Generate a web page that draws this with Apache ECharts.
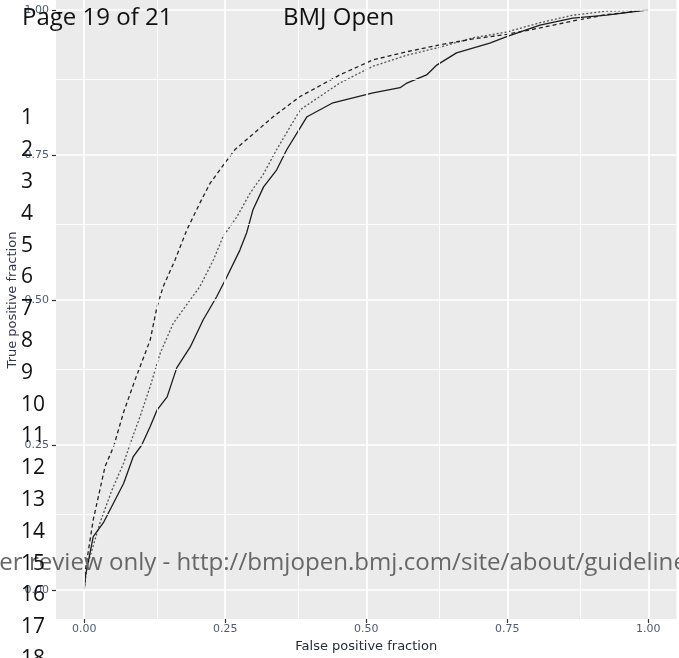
<!DOCTYPE html>
<html>
<head>
<meta charset="utf-8">
<script src="https://cdn.jsdelivr.net/npm/echarts@6/dist/echarts.min.js"></script>
<style>
html,body{margin:0;padding:0;background:#fff;}
#chart{width:679px;height:658px;}
</style>
</head>
<body>
<div id="chart"></div>
<script>
// ---- data ----
var tickValues = [0, 0.25, 0.5, 0.75, 1];
var tickLabels = ['0.00', '0.25', '0.50', '0.75', '1.00'];
var minorValues = [0.125, 0.375, 0.625, 0.875];

var solidFPR = [0, 0.002, 0.016, 0.034, 0.052, 0.070, 0.087, 0.102, 0.117, 0.129, 0.147, 0.164, 0.188, 0.211, 0.235, 0.253, 0.276, 0.288, 0.299, 0.318, 0.341, 0.359, 0.395, 0.441, 0.512, 0.560, 0.572, 0.607, 0.625, 0.660, 0.719, 0.749, 0.808, 0.866, 0.926, 1];
var solidTPR = [0, 0.023, 0.092, 0.116, 0.150, 0.184, 0.230, 0.250, 0.282, 0.310, 0.333, 0.383, 0.419, 0.466, 0.506, 0.540, 0.586, 0.616, 0.655, 0.695, 0.724, 0.759, 0.816, 0.840, 0.857, 0.866, 0.874, 0.888, 0.905, 0.926, 0.943, 0.954, 0.974, 0.986, 0.991, 1];

var dashedFPR = [0, 0.002, 0.016, 0.037, 0.052, 0.070, 0.090, 0.117, 0.129, 0.140, 0.161, 0.182, 0.205, 0.223, 0.247, 0.267, 0.335, 0.383, 0.453, 0.512, 0.572, 0.631, 0.689, 0.749, 0.808, 0.866, 0.926, 1];
var dashedTPR = [0, 0.034, 0.121, 0.213, 0.247, 0.307, 0.362, 0.431, 0.488, 0.523, 0.569, 0.621, 0.667, 0.701, 0.733, 0.759, 0.816, 0.851, 0.888, 0.914, 0.928, 0.940, 0.950, 0.958, 0.969, 0.981, 0.992, 1];

var dottedFPR = [0, 0.005, 0.028, 0.049, 0.070, 0.084, 0.099, 0.117, 0.135, 0.158, 0.175, 0.205, 0.229, 0.246, 0.271, 0.294, 0.317, 0.341, 0.383, 0.453, 0.512, 0.572, 0.631, 0.689, 0.749, 0.808, 0.866, 0.926, 1];
var dottedTPR = [0, 0.040, 0.116, 0.172, 0.219, 0.259, 0.299, 0.351, 0.409, 0.460, 0.483, 0.523, 0.569, 0.609, 0.644, 0.684, 0.716, 0.759, 0.828, 0.874, 0.903, 0.922, 0.936, 0.952, 0.962, 0.978, 0.991, 0.998, 1];

var xTitle = 'False positive fraction';
var yTitle = 'True positive fraction';
var headerLeft = 'Page 19 of 21';
var headerCenter = 'BMJ Open';
var watermark = 'For peer review only - http://bmjopen.bmj.com/site/about/guidelines.xhtml';
var lineNumbers = ['1','2','3','4','5','6','7','8','9','10','11','12','13','14','15','16','17','18'];

// ---- build ----
function zip(a, b) { return a.map(function (v, i) { return [v, b[i]]; }); }
function fmt(v) {
  for (var i = 0; i < tickValues.length; i++) { if (Math.abs(tickValues[i] - v) < 1e-9) return tickLabels[i]; }
  return '';
}

var grid = [];
minorValues.forEach(function (v) {
  grid.push({ xAxis: v, lineStyle: { color: '#ffffff', width: 0.9, type: 'solid' } });
  grid.push({ yAxis: v, lineStyle: { color: '#ffffff', width: 0.9, type: 'solid' } });
});
tickValues.forEach(function (v) {
  grid.push({ xAxis: v, lineStyle: { color: '#ffffff', width: 1.7, type: 'solid' } });
  grid.push({ yAxis: v, lineStyle: { color: '#ffffff', width: 1.7, type: 'solid' } });
});

var graphics = [
  { type: 'text', z: 100, left: 22, top: 6, style: { text: headerLeft, fontFamily: 'Open Sans', fontSize: 24, fill: '#111' } },
  { type: 'text', z: 100, left: 283, top: 6, style: { text: headerCenter, fontFamily: 'Open Sans', fontSize: 24, fill: '#111' } },
  { type: 'text', z: 99, x: -72, y: 563, style: { text: watermark, fontFamily: 'Open Sans', fontSize: 24.1, fill: '#676767', verticalAlign: 'middle', align: 'left' } },
  { type: 'text', z: 50, x: 13, y: 300, rotation: Math.PI / 2,
    style: { text: yTitle, fontFamily: 'DejaVu Sans', fontSize: 13, fill: '#2e3547', align: 'center', verticalAlign: 'middle' } }
];
lineNumbers.forEach(function (t, i) {
  graphics.push({ type: 'text', z: 100, x: 21, y: 118.5 + i * 31.8,
    style: { text: t, fontFamily: 'Open Sans', fontSize: 21, fill: '#111', verticalAlign: 'middle', align: 'left' } });
});

var chart = echarts.init(document.getElementById('chart'), null, { renderer: 'canvas' });
var axisCommon = {
  type: 'value',
  splitLine: { show: false },
  axisLine: { show: false, onZero: false },
  axisTick: { show: true, length: 4, lineStyle: { color: '#333333', width: 1.2 }, customValues: tickValues },
  axisLabel: { customValues: tickValues, formatter: fmt, color: '#4f5a72', fontFamily: 'DejaVu Sans', fontSize: 11 },
  nameLocation: 'middle',
  nameTextStyle: { color: '#262c3d', fontFamily: 'DejaVu Sans', fontSize: 13 }
};
chart.setOption({
  animation: false,
  backgroundColor: '#ffffff',
  grid: { left: 56, right: 2.5, top: 0, bottom: 39, show: true, backgroundColor: '#EBEBEB', borderWidth: 0 },
  xAxis: Object.assign({}, axisCommon, {
    min: -0.05, max: 1.05, name: xTitle, nameGap: 21,
    axisLabel: Object.assign({}, axisCommon.axisLabel, { margin: 5 })
  }),
  yAxis: Object.assign({}, axisCommon, {
    min: -0.05, max: 1.0172,
    axisLabel: Object.assign({}, axisCommon.axisLabel, { margin: 7 })
  }),
  graphic: graphics,
  series: [
    { type: 'line', z: 1, data: [[0, 0]], symbol: 'none', lineStyle: { width: 0 }, silent: true,
      markLine: { silent: true, symbol: ['none', 'none'], label: { show: false }, data: grid, animation: false } },
    { type: 'line', name: 'dotted', z: 3, data: zip(dottedFPR, dottedTPR), symbol: 'none', silent: true,
      lineStyle: { color: '#555', width: 1.3, type: [2, 2] } },
    { type: 'line', name: 'dashed', z: 3, data: zip(dashedFPR, dashedTPR), symbol: 'none', silent: true,
      lineStyle: { color: '#222', width: 1.3, type: [4, 3] } },
    { type: 'line', name: 'solid', z: 3, data: zip(solidFPR, solidTPR), symbol: 'none', silent: true,
      lineStyle: { color: '#1c1c1c', width: 1.3, type: 'solid' } }
  ]
});
</script>
</body>
</html>
